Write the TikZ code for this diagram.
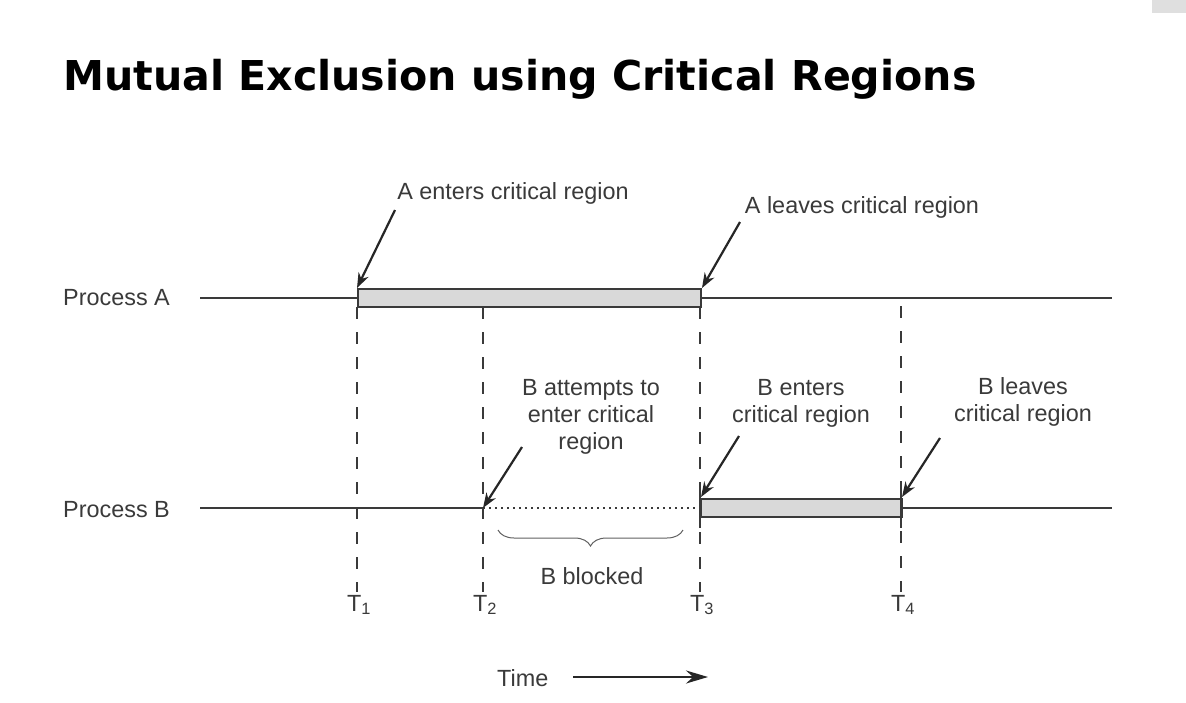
\documentclass[tikz,border=0pt]{standalone}
\usepackage{fontspec}
\setmainfont{Liberation Sans}
\newfontfamily\titlefont{DejaVu Sans}
\usetikzlibrary{arrows.meta,decorations.pathreplacing}
\definecolor{ink}{HTML}{3A3A3A}
\definecolor{boxgray}{HTML}{D9D9D9}
\tikzset{
  lbl/.style={font=\fontsize{23.4}{27}\selectfont, text=ink, align=center, inner sep=0pt},
  tline/.style={draw=ink, line width=2pt},
  crit/.style={draw=ink, line width=2pt, fill=boxgray},
  vdash/.style={draw=ink, line width=2pt, dash pattern=on 12pt off 13pt},
  pointer/.style={draw=black!85, line width=2.2pt, -{Stealth[length=15pt,width=11pt]}},
  tmark/.style={font=\fontsize{23.4}{27}\selectfont, text=ink, inner sep=0pt}
}
\begin{document}
\begin{tikzpicture}[x=1pt,y=-1pt]
\useasboundingbox[fill=white] (0,0) rectangle (1186,702);
% screen corner artifact
\fill[gray!25] (1152,0) rectangle (1186,13);
% title
\node[anchor=base west, inner sep=0pt] (title) at (63,90)
  {\resizebox{913pt}{!}{\titlefont\bfseries Mutual Exclusion using Critical Regions}};
% process labels
\node[lbl, anchor=west] (pa) at (63,298) {Process A};
\node[lbl, anchor=west] (pb) at (63,510) {Process B};
% time coordinates
\coordinate (t1a) at (357,307);
\coordinate (t2a) at (483,307);
\coordinate (t3a) at (700,307);
\coordinate (t4a) at (901,306);
\coordinate (t1b) at (357,592);
\coordinate (t2b) at (483,592);
\coordinate (t3b) at (700,592);
\coordinate (t4b) at (901,592);
% dashed time lines
\draw[vdash] (t1a) -- (t1b);
\draw[vdash] (t2a) -- (t2b);
\draw[vdash] (t3a) -- (t3b);
\draw[vdash] (t4a) -- (t4b);
% process A timeline
\coordinate (aStart) at (200,298);
\coordinate (aEnd) at (1112,298);
\draw[tline] (aStart) -- (357,298);
\draw[tline] (700,298) -- (aEnd);
\node[crit, minimum width=343pt, minimum height=18pt, inner sep=0pt, anchor=west] (boxA) at (357,298) {};
% process B timeline
\coordinate (bStart) at (200,508);
\coordinate (bBlock) at (483,508);
\coordinate (bEnd) at (1112,508);
\draw[tline] (bStart) -- (bBlock);
\draw[draw=ink, line width=2pt, dash pattern=on 2pt off 4pt] (bBlock) -- (700,508);
\draw[tline] (901,508) -- (bEnd);
\node[crit, minimum width=201pt, minimum height=18pt, inner sep=0pt, anchor=west] (boxB) at (700,508) {};
% tick ends at box B edges
\draw[tline] (700,490) -- (700,528);
\draw[tline] (901,490) -- (901,528);
% time labels
\node[tmark] (T1) at (359,605) {T\textsubscript{1}};
\node[tmark] (T2) at (485,605) {T\textsubscript{2}};
\node[tmark] (T3) at (702,605) {T\textsubscript{3}};
\node[tmark] (T4) at (903,605) {T\textsubscript{4}};
% annotations
\node[lbl] (aenter) at (513,193) {A enters critical region};
\node[lbl] (aleave) at (862,207) {A leaves critical region};
\node[lbl] (battempt) at (591,417) {B attempts to\\enter critical\\region};
\node[lbl] (benter) at (801,403) {B enters\\critical region};
\node[lbl] (bleave) at (1023,402) {B leaves\\critical region};
\coordinate (aenterT) at (395,210);
\coordinate (aleaveT) at (740,222);
\coordinate (battemptT) at (522,447);
\coordinate (benterT) at (739,436);
\coordinate (bleaveT) at (940,438);
\draw[pointer] (aenterT) -- (boxA.north west);
\draw[pointer] (aleaveT) -- (boxA.north east);
\draw[pointer] (battemptT) -- (bBlock);
\draw[pointer] (benterT) -- (701,497);
\draw[pointer] (bleaveT) -- (902,497);
% brace
\coordinate (brL) at (498,530);
\coordinate (brR) at (683,530);
\draw[draw=ink!80, line width=1pt, decorate, decoration={brace, mirror, amplitude=16pt}] (brL) -- (brR);
\node[lbl] (blocked) at (592,576) {B blocked};
% time arrow
\node[lbl, anchor=west] (time) at (497,678) {Time};
\coordinate (tarrS) at (573,677);
\coordinate (tarrE) at (708,677);
\draw[draw=black!85, line width=2.2pt, -{Stealth[length=22pt,width=13pt]}] (tarrS) -- (tarrE);
\end{tikzpicture}
\end{document}
